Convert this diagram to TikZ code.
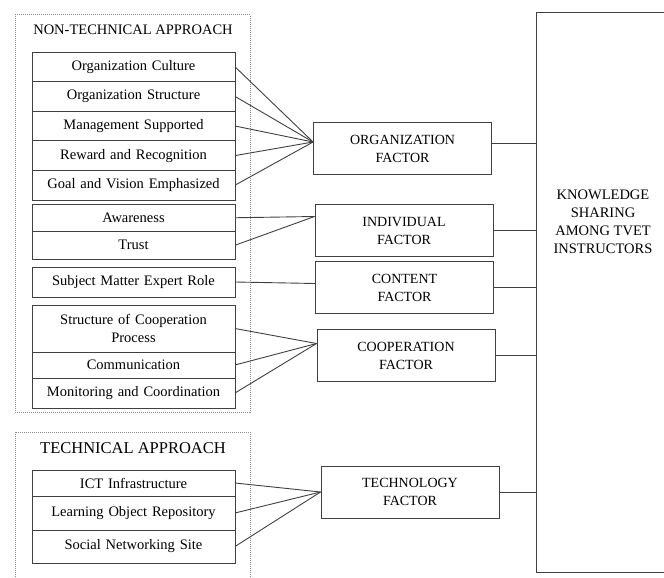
\documentclass[tikz,border=0pt]{standalone}
\usepackage{fontspec}
\setmainfont{Liberation Serif}
\usetikzlibrary{positioning}

\begin{document}
\begin{tikzpicture}[x=1pt, y=-1pt,
						item/.style={rectangle, draw=black!75, line width=0.9pt, outer sep=0pt, inner sep=0pt, minimum width=203pt, text width=195pt, align=center, font=\fontsize{14.5}{18}\selectfont},
						factor/.style={rectangle, draw=black!75, line width=0.9pt, minimum width=178pt, minimum height=52pt, align=center, font=\fontsize{14}{18}\selectfont},
						group/.style={rectangle, draw=black!45, densely dotted, line width=1pt, minimum width=235pt},
						heading/.style={rectangle, inner sep=0pt, align=center}
					]
					\clip (0,0) rectangle (664,578);
					% non-technical approach
					\node[group, minimum height=397pt] (nontech) at (132.5,213.5) {};
					\node[heading, font=\fontsize{14.5}{18}\selectfont] (nontechlabel) at (133,30) {NON-TECHNICAL APPROACH};
					\node[item, minimum height=29.6pt] (culture) at (133.5,66.8) {Organization Culture};
					\node[item, minimum height=29.6pt] (structure) [below=0pt of culture] {Organization Structure};
					\node[item, minimum height=29.6pt] (management) [below=0pt of structure] {Management Supported};
					\node[item, minimum height=29.6pt] (reward) [below=0pt of management] {Reward and Recognition};
					\node[item, minimum height=29.6pt] (goal) [below=0pt of reward] {Goal and Vision Emphasized};
					\node[item, minimum height=27.5pt] (awareness) at (133.5,217.75) {Awareness};
					\node[item, minimum height=27.5pt] (trust) [below=0pt of awareness] {Trust};
					\node[item, minimum height=30pt] (expert) at (133.5,282) {Subject Matter Expert Role};
					\node[item, minimum height=47pt] (process) at (133.5,328.5) {Structure of Cooperation\\Process};
					\node[item, minimum height=26pt] (communication) [below=0pt of process] {Communication};
					\node[item, minimum height=30pt] (monitoring) [below=0pt of communication] {Monitoring and Coordination};
					% technical approach
					\node[group, minimum height=300pt] (tech) at (132.5,582) {};
					\node[heading, font=\fontsize{16.5}{20}\selectfont] (techlabel) at (133,448) {TECHNICAL APPROACH};
					\node[item, minimum height=26pt] (ict) at (133.5,483) {ICT Infrastructure};
					\node[item, minimum height=34pt] (repository) [below=0pt of ict] {Learning Object Repository};
					\node[item, minimum height=33pt] (networking) [below=0pt of repository] {Social Networking Site};
					% factors
					\node[factor] (organization) at (402.5,148.5) {ORGANIZATION\\FACTOR};
					\node[factor] (individual) at (404,230.5) {INDIVIDUAL\\FACTOR};
					\node[factor] (content) at (404.5,287.5) {CONTENT\\FACTOR};
					\node[factor] (cooperation) at (406,355.5) {COOPERATION\\FACTOR};
					\node[factor] (technology) at (410,492) {TECHNOLOGY\\FACTOR};
					% knowledge sharing
					\node[rectangle, draw=black!75, line width=0.9pt, minimum width=200pt, minimum height=560pt] (sharing) at (636,292) {};
					\node[heading, font=\fontsize{14.5}{18}\selectfont] (sharinglabel) at (603,222) {KNOWLEDGE\\SHARING\\AMONG TVET\\INSTRUCTORS};
					\coordinate (orgin) at ([yshift=6.5pt]organization.west);
					\coordinate (indin) at ([yshift=14pt]individual.west);
					\coordinate (conin) at ([yshift=4pt]content.west);
					\coordinate (cooin) at ([yshift=12pt]cooperation.west);
					\coordinate (tecin) at (technology.west);
					\begin{scope}[draw=black!75, line width=0.9pt]
					\draw (culture.east) -- (orgin);
					\draw (structure.east) -- (orgin);
					\draw (management.east) -- (orgin);
					\draw (reward.east) -- (orgin);
					\draw (goal.east) -- (orgin);
					\draw (awareness.east) -- (indin);
					\draw (trust.east) -- (indin);
					\draw (expert.east) -- (conin);
					\draw (process.east) -- (cooin);
					\draw (communication.east) -- (cooin);
					\draw (monitoring.east) -- (cooin);
					\draw (ict.east) -- (tecin);
					\draw (repository.east) -- (tecin);
					\draw (networking.east) -- (tecin);
					\draw ([yshift=5pt]organization.east) -- ([yshift=5pt]organization.east -| sharing.west);
					\draw (individual.east) -- (individual.east -| sharing.west);
					\draw (content.east) -- (content.east -| sharing.west);
					\draw (cooperation.east) -- (cooperation.east -| sharing.west);
					\draw (technology.east) -- (technology.east -| sharing.west);
					\end{scope}
					\end{tikzpicture}
\end{document}
